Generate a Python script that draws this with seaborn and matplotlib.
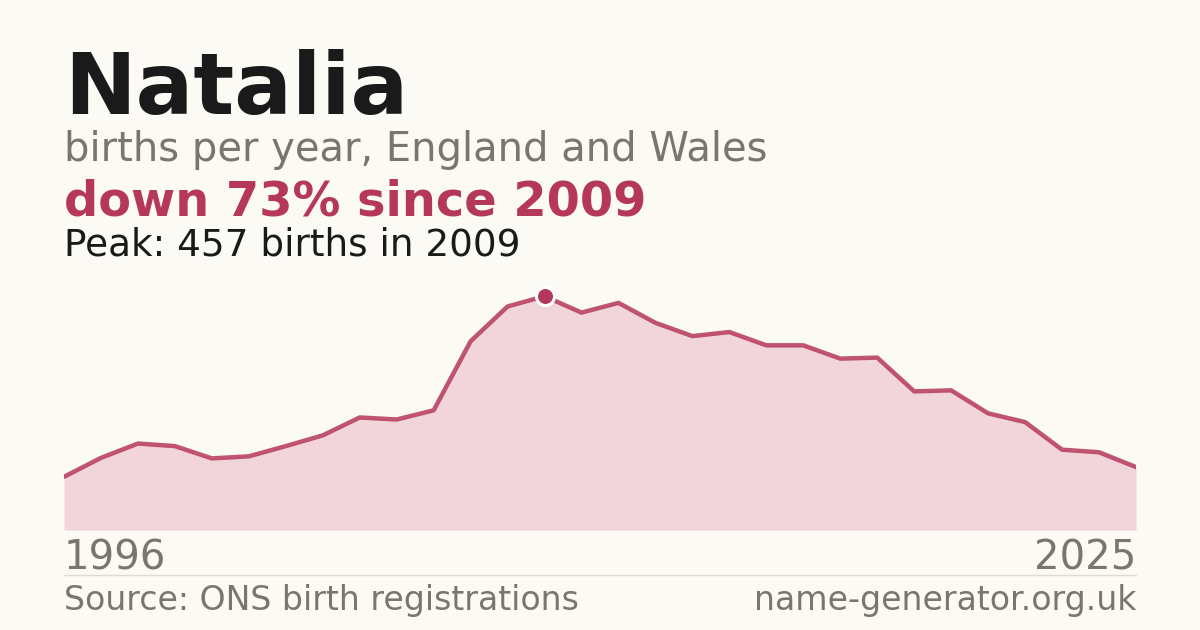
import matplotlib
matplotlib.use("Agg")
import matplotlib.pyplot as plt
import seaborn as sns
import pandas as pd

years = list(range(1996, 2026))
births = [104, 141, 169, 164, 140, 144, 164, 185, 220, 216, 234, 369, 437, 457,
          425, 444, 405, 379, 387, 361, 361, 335, 337, 271, 273, 228, 211, 157, 152, 123]
name = "Natalia"
subtitle = "births per year, England and Wales"
change_text = "down 73% since 2009"
peak_text = "Peak: 457 births in 2009"
source_text = "Source: ONS birth registrations"
site_text = "name-generator.org.uk"

BG = "#fbfaf5"
RED = "#b5385a"
FILL = "#f2d5da"
DARK = "#1a1a1a"
GREY = "#7a756f"

sns.set_theme(style="white")
plt.rcParams["font.family"] = ["DejaVu Sans"]

df = pd.DataFrame({"year": years, "births": births})

W, H = 1200, 630
fig = plt.figure(figsize=(12, 6.3), dpi=100, facecolor=BG)
ax = fig.add_axes([64 / W, 1 - 530 / H, 1072 / W, 250 / H])
ax.set_facecolor(BG)

ax.fill_between(df["year"], df["births"], 0, color=FILL, linewidth=0, zorder=1)
sns.lineplot(data=df, x="year", y="births", ax=ax, color=RED, linewidth=3.2,
             alpha=0.85, zorder=2)
peak_i = births.index(max(births))
ax.plot([years[peak_i]], [births[peak_i]], "o", color=RED, markersize=13,
        markeredgecolor="white", markeredgewidth=2.2, zorder=3, clip_on=False)

ax.set_xlim(years[0], years[-1])
ax.set_ylim(0, 488.7)
ax.axis("off")

def ft(x, y, s, **kw):
    fig.text(x / W, 1 - y / H, s, va="baseline", **kw)

ft(64, 114, name, fontsize=61.6, fontweight="bold", color=DARK)
ft(64, 161, subtitle, fontsize=28.8, color=GREY)
ft(64, 215, change_text, fontsize=34.5, fontweight="bold", color=RED)
ft(64, 255, peak_text, fontsize=26.9, color=DARK)
ft(64, 569, str(years[0]), fontsize=28.9, color=GREY)
ft(1136, 569, str(years[-1]), fontsize=28.9, color=GREY, ha="right")
ft(64, 610, source_text, fontsize=23.9, color=GREY)
ft(1136, 610, site_text, fontsize=23.9, color=GREY, ha="right")

fig.add_artist(plt.Line2D([64 / W, 1136 / W], [1 - 575 / H, 1 - 575 / H],
                          color="#dedbd5", linewidth=1, transform=fig.transFigure))

fig.savefig("out.png", dpi=100, facecolor=BG)
